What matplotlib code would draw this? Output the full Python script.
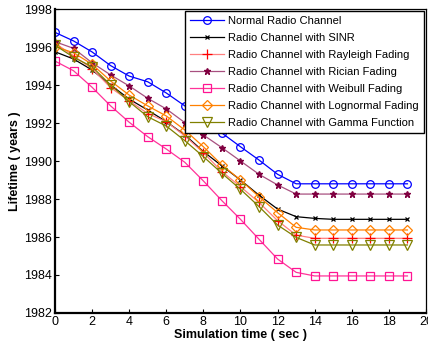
import numpy as np
import matplotlib
matplotlib.use('Agg')
import matplotlib.pyplot as plt

plt.rcParams['font.family'] = ['Liberation Sans', 'DejaVu Sans']

# simulation time (sec)
t = np.arange(0, 20)

# lifetime (years) per channel model
normal = [1996.77, 1996.32, 1995.74, 1995.02, 1994.47, 1994.17, 1993.58, 1992.90, 1992.20, 1991.47,
          1990.75, 1990.05, 1989.30, 1988.80, 1988.80, 1988.80, 1988.80, 1988.80, 1988.80, 1988.80]
sinr = [1995.75, 1995.37, 1994.79, 1994.00, 1993.26, 1992.68, 1992.07, 1991.37, 1990.50, 1989.74,
        1989.00, 1988.20, 1987.47, 1987.07, 1986.98, 1986.93, 1986.93, 1986.93, 1986.93, 1986.93]
rayleigh = [1996.20, 1995.54, 1994.86, 1993.86, 1993.17, 1992.50, 1992.07, 1991.32, 1990.44, 1989.44,
            1988.65, 1987.82, 1986.86, 1986.10, 1985.93, 1985.93, 1985.93, 1985.93, 1985.93, 1985.93]
rician = [1996.28, 1995.93, 1995.17, 1994.53, 1993.95, 1993.30, 1992.74, 1992.02, 1991.37, 1990.70,
          1990.00, 1989.30, 1988.74, 1988.26, 1988.26, 1988.26, 1988.26, 1988.26, 1988.26, 1988.26]
weibull = [1995.26, 1994.75, 1993.88, 1992.90, 1992.04, 1991.28, 1990.63, 1989.93, 1988.95, 1987.91,
           1986.93, 1985.88, 1984.84, 1984.14, 1983.95, 1983.95, 1983.95, 1983.95, 1983.95, 1983.95]
lognormal = [1996.02, 1995.70, 1995.09, 1994.21, 1993.47, 1992.90, 1992.37, 1991.63, 1990.75, 1989.79,
             1989.00, 1988.12, 1987.28, 1986.51, 1986.37, 1986.37, 1986.37, 1986.37, 1986.37, 1986.37]
gamma = [1996.10, 1995.46, 1994.96, 1994.00, 1993.12, 1992.33, 1991.84, 1991.07, 1990.23, 1989.35,
         1988.51, 1987.60, 1986.63, 1985.98, 1985.58, 1985.58, 1985.58, 1985.58, 1985.58, 1985.58]

labels = ['Normal Radio Channel', 'Radio Channel with SINR', 'Radio Channel with Rayleigh Fading',
          'Radio Channel with Rician Fading', 'Radio Channel with Weibull Fading',
          'Radio Channel with Lognormal Fading', 'Radio Channel with Gamma Function']

fig = plt.figure(figsize=(4.28, 3.47), dpi=100)
ax = fig.add_axes([0.1285, 0.098, 0.8668, 0.876])

ax.plot(t, normal, color='#0000ff', lw=0.9, marker='o', ms=5.5, mfc='none', mew=0.9, label=labels[0])
ax.plot(t, sinr, color='black', lw=0.9, marker='x', ms=2.5, mew=0.9, label=labels[1])
ax.plot(t, rayleigh, color='#ff8080', lw=0.9, marker='+', ms=6.5, mec='#ff0000', mew=0.9, label=labels[2])
ax.plot(t, rician, color='#a85080', lw=0.9, marker='*', ms=4.5, mec='#800040', mfc='#800040', label=labels[3])
ax.plot(t, weibull, color='#ff3399', lw=0.9, marker='s', ms=5.5, mfc='none', mec='#ff1493', mew=0.9, label=labels[4])
ax.plot(t, lognormal, color='#ff8000', lw=0.9, marker='D', ms=5, mfc='none', mew=0.9, label=labels[5])
ax.plot(t, gamma, color='#808000', lw=0.9, marker='v', ms=6.5, mfc='none', mew=0.9, label=labels[6])

ax.set_xlim(0, 20)
ax.set_ylim(1982, 1998)
ax.set_xticks(np.arange(0, 21, 2))
ax.set_yticks(np.arange(1982, 1999, 2))
ax.tick_params(direction='in', length=3, labelsize=9, pad=2)
for s in ['left', 'bottom']:
    ax.spines[s].set_linewidth(1.6)
for s in ['top', 'right']:
    ax.spines[s].set_linewidth(0.9)

ax.set_xlabel('Simulation time ( sec )', fontsize=9, fontweight='bold', labelpad=1)
ax.set_ylabel('Lifetime ( years )', fontsize=9, fontweight='bold', labelpad=2)

leg = ax.legend(loc='upper right', fontsize=8, fancybox=False, framealpha=1, edgecolor='black',
                borderaxespad=0.2, handlelength=3, labelspacing=0.62, borderpad=0.45, handletextpad=0.4)
leg.get_frame().set_linewidth(1.0)

fig.savefig('out.png', dpi=100)
